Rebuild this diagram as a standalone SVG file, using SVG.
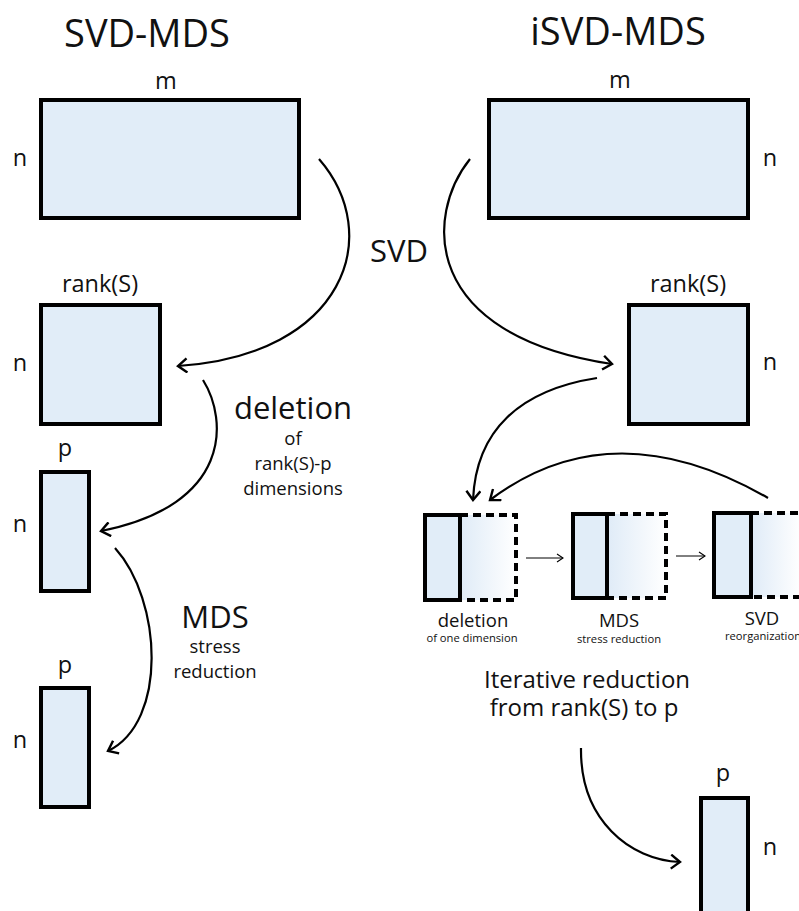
<svg xmlns="http://www.w3.org/2000/svg" width="799" height="911" viewBox="0 0 799 911">
  <style>
    text { font-family: "Open Sans", "Noto Sans", "Liberation Sans", sans-serif; fill: #111; text-anchor: middle; }
    .mat { fill: #e1edf8; stroke: #000; stroke-width: 4; }
    .dash { fill: url(#fade); stroke: none; }
    .dashline { fill: none; stroke: #000; stroke-width: 4; stroke-dasharray: 8 5; }
    .conn { fill: none; stroke: #000; stroke-width: 2.2; marker-end: url(#head); }
    .step { fill: none; stroke: #000; stroke-width: 1; marker-end: url(#small); }
    .title { font-size: 38px; }
    .lbl { font-size: 23.5px; }
    .op { font-size: 31px; }
    .sub { font-size: 18.5px; }
    .stepname { font-size: 18.5px; }
    .tiny { font-size: 11.2px; }
    .iter { font-size: 24px; }
  </style>
  <defs>
    <linearGradient id="fade" x1="0" y1="0" x2="1" y2="0">
      <stop offset="0" stop-color="#dfebf7"/>
      <stop offset="1" stop-color="#ffffff"/>
    </linearGradient>
    <marker id="head" markerUnits="userSpaceOnUse" markerWidth="14" markerHeight="16" refX="11" refY="8" orient="auto">
      <path d="M2,1 L11,8 L2,15" fill="none" stroke="#000" stroke-width="2.4"/>
    </marker>
    <marker id="small" markerUnits="userSpaceOnUse" markerWidth="10" markerHeight="10" refX="8" refY="5" orient="auto">
      <path d="M2,1 L8,5 L2,9" fill="none" stroke="#000" stroke-width="1.1"/>
    </marker>
  </defs>

  <!-- headings -->
  <text class="title" x="147" y="47">SVD-MDS</text>
  <text class="title" x="618" y="45">iSVD-MDS</text>

  <!-- SVD-MDS column -->
  <g id="left-input">
    <rect class="mat" x="41" y="100" width="258" height="118"/>
    <text class="lbl" x="166" y="89">m</text>
    <text class="lbl" x="20" y="166">n</text>
  </g>
  <g id="left-rank">
    <rect class="mat" x="41" y="305" width="119" height="119"/>
    <text class="lbl" x="100" y="292">rank(S)</text>
    <text class="lbl" x="20" y="371">n</text>
  </g>
  <g id="left-p1">
    <rect class="mat" x="41" y="472" width="48" height="119"/>
    <text class="lbl" x="65" y="456">p</text>
    <text class="lbl" x="20" y="532">n</text>
  </g>
  <g id="left-p2">
    <rect class="mat" x="41" y="688" width="48" height="119"/>
    <text class="lbl" x="65" y="673">p</text>
    <text class="lbl" x="20" y="748">n</text>
  </g>

  <!-- iSVD-MDS column -->
  <g id="right-input">
    <rect class="mat" x="489" y="100" width="259" height="118"/>
    <text class="lbl" x="620" y="88">m</text>
    <text class="lbl" x="770" y="166">n</text>
  </g>
  <g id="right-rank">
    <rect class="mat" x="629" y="305" width="119" height="119"/>
    <text class="lbl" x="688" y="292">rank(S)</text>
    <text class="lbl" x="770" y="370">n</text>
  </g>

  <!-- iteration steps -->
  <g id="step-deletion">
    <rect class="dash" x="460" y="515" width="56" height="85"/>
    <path class="dashline" d="M460,515 H516 V600 H460"/>
    <rect class="mat" x="425" y="515" width="35" height="85"/>
    <text class="stepname" x="473" y="627">deletion</text>
    <text class="tiny" x="472" y="642">of one dimension</text>
  </g>
  <g id="step-mds">
    <rect class="dash" x="607" y="514" width="59" height="84"/>
    <path class="dashline" d="M607,514 H666 V598 H607"/>
    <rect class="mat" x="573" y="514" width="34" height="84"/>
    <text class="stepname" x="619" y="627">MDS</text>
    <text class="tiny" x="619" y="643">stress reduction</text>
  </g>
  <g id="step-svd">
    <rect class="dash" x="751" y="513" width="50" height="84"/>
    <path class="dashline" d="M751,513 H801 M801,597 H751"/>
    <rect class="mat" x="714" y="513" width="37" height="84"/>
    <text class="stepname" x="762" y="625">SVD</text>
    <text class="tiny" x="763" y="640">reorganization</text>
  </g>

  <g id="right-p">
    <rect class="mat" x="701" y="798" width="47" height="130"/>
    <text class="lbl" x="723" y="781">p</text>
    <text class="lbl" x="770" y="855">n</text>
  </g>

  <!-- operation labels -->
  <text class="op" font-size="35" x="399" y="262">SVD</text>
  <g id="label-deletion">
    <text class="op" x="293" y="419">deletion</text>
    <text class="sub" x="293" y="445">of</text>
    <text class="sub" x="293" y="470">rank(S)-p</text>
    <text class="sub" x="293" y="495">dimensions</text>
  </g>
  <g id="label-mds">
    <text class="op" x="215" y="628">MDS</text>
    <text class="sub" x="215" y="653">stress</text>
    <text class="sub" x="215" y="678">reduction</text>
  </g>
  <g id="label-iterative">
    <text class="iter" x="587" y="688">Iterative reduction</text>
    <text class="iter" x="584" y="716">from rank(S) to p</text>
  </g>

  <!-- connectors -->
  <g id="connectors">
    <path class="conn" d="M319,159 C385,235 345,355 178,366"/>
    <path class="conn" d="M470,159 C425,215 420,335 612,364"/>
    <path class="conn" d="M203,380 C228,420 232,505 101,531"/>
    <path class="conn" d="M115,548 C162,600 168,722 108,751"/>
    <path class="conn" d="M597,378 C520,390 476,430 473,500"/>
    <path class="conn" d="M768,498 Q612,408 490,500"/>
    <path class="conn" d="M581,748 C580,820 630,860 680,862"/>
    <path class="step" d="M526,558 H563"/>
    <path class="step" d="M676,556 H705"/>
  </g>
</svg>
